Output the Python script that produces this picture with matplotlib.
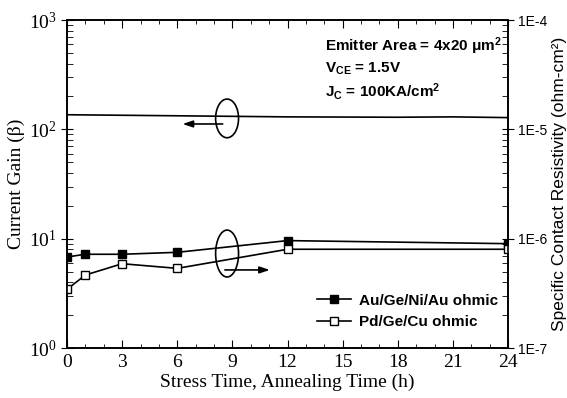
import matplotlib
matplotlib.use("Agg")
import matplotlib.pyplot as plt
from matplotlib.patches import Ellipse
from matplotlib.ticker import FixedLocator, FixedFormatter, MultipleLocator, LogLocator, NullFormatter

plt.rcParams['mathtext.fontset'] = 'custom'
plt.rcParams['mathtext.rm'] = 'Liberation Sans:bold'
plt.rcParams['mathtext.it'] = 'Liberation Sans:bold'
plt.rcParams['mathtext.bf'] = 'Liberation Sans:bold'

# Data
gain_time = [0, 6, 12, 18, 21, 24]
gain = [136, 133, 130, 129, 130, 128]

rho_time = [0, 1, 3, 6, 12, 24]
rho_au = [6.8e-7, 7.2e-7, 7.2e-7, 7.5e-7, 9.6e-7, 9.0e-7]
rho_pd = [3.44e-7, 4.65e-7, 5.9e-7, 5.35e-7, 8.0e-7, 8.0e-7]

xticks = [0, 3, 6, 9, 12, 15, 18, 21, 24]
right_ticks = [1e-7, 1e-6, 1e-5, 1e-4]
right_labels = ["1E-7", "1E-6", "1E-5", "1E-4"]

fig = plt.figure(figsize=(5.67, 3.98), dpi=100)
ax = fig.add_axes([67/567, 50/398, 441/567, 328/398])
ax2 = ax.twinx()

serif = 'Liberation Serif'
sans = 'Liberation Sans'

ax.plot(gain_time, gain, color='black', lw=1.2)
ax.set_yscale('log')
ax.set_ylim(1, 1000)
ax.set_xlim(0, 24)
ax.set_xticks(xticks)
ax.xaxis.set_minor_locator(MultipleLocator(1))
ax.yaxis.set_minor_locator(LogLocator(base=10, subs=range(2, 10)))
ax.yaxis.set_minor_formatter(NullFormatter())
ax.tick_params(axis='x', which='both', direction='in', top=True, labelsize=14,
               labelfontfamily=serif, pad=4)
ax.tick_params(axis='x', which='major', length=6)
ax.tick_params(axis='x', which='minor', length=3)
ax.tick_params(axis='y', which='major', direction='inout', length=8, labelsize=14,
               labelfontfamily=serif)
ax.tick_params(axis='y', which='minor', direction='in', length=4)
ax.set_xlabel("Stress Time, Annealing Time (h)", fontsize=14, fontfamily=serif, labelpad=2)
ax.set_ylabel("Current Gain (β)", fontsize=14, fontfamily=serif, labelpad=3)

ax2.plot(rho_time, rho_au, color='black', lw=1.2, marker='s', ms=6,
         mfc='black', mec='black', label='Au/Ge/Ni/Au ohmic')
ax2.plot(rho_time, rho_pd, color='black', lw=1.2, marker='s', ms=6,
         mfc='white', mec='black', label='Pd/Ge/Cu ohmic')
ax2.set_yscale('log')
ax2.set_ylim(1e-7, 1e-4)
ax2.yaxis.set_major_locator(FixedLocator(right_ticks))
ax2.yaxis.set_major_formatter(FixedFormatter(right_labels))
ax2.yaxis.set_minor_locator(LogLocator(base=10, subs=range(2, 10)))
ax2.yaxis.set_minor_formatter(NullFormatter())
ax2.tick_params(axis='y', which='major', direction='inout', length=8, labelsize=10,
                labelfontfamily=sans)
ax2.tick_params(axis='y', which='minor', direction='in', length=4)
ax2.set_ylabel("Specific Contact Resistivity (ohm-cm²)", fontsize=12.5,
               fontfamily=sans, labelpad=3, rotation=90)

for a in (ax, ax2):
    for s in a.spines.values():
        s.set_linewidth(1.2)

leg = ax2.legend(loc='lower right', bbox_to_anchor=(1.008, 0.015), frameon=False,
                 prop={'family': sans, 'weight': 'bold', 'size': 11},
                 handlelength=2.2, handletextpad=0.5, labelspacing=0.5)

tkw = dict(transform=ax.transAxes, fontsize=11, fontfamily=sans, fontweight='bold',
           math_fontfamily='custom')
ax.text(0.585, 0.905, "Emitter Area = 4x20 μm$^{2}$", **tkw)
ax.text(0.585, 0.84, "V$_{CE}$ = 1.5V", **tkw)
ax.text(0.585, 0.765, "J$_{C}$ = 100KA/cm$^{2}$", **tkw)

ax.add_patch(Ellipse((0.363, 0.70), 0.052, 0.118, transform=ax.transAxes,
                     fill=False, ec='black', lw=1.2))
ax.add_patch(Ellipse((0.363, 0.288), 0.052, 0.143, transform=ax.transAxes,
                     fill=False, ec='black', lw=1.2))
ax.annotate("", xy=(0.262, 0.683), xytext=(0.353, 0.683), xycoords='axes fraction',
            arrowprops=dict(arrowstyle='-|>,head_length=0.6,head_width=0.2',
                            color='black', lw=1.2, shrinkA=0, shrinkB=0))
ax.annotate("", xy=(0.46, 0.238), xytext=(0.358, 0.238), xycoords='axes fraction',
            arrowprops=dict(arrowstyle='-|>,head_length=0.6,head_width=0.2',
                            color='black', lw=1.2, shrinkA=0, shrinkB=0))

fig.savefig("out.png", dpi=100)
